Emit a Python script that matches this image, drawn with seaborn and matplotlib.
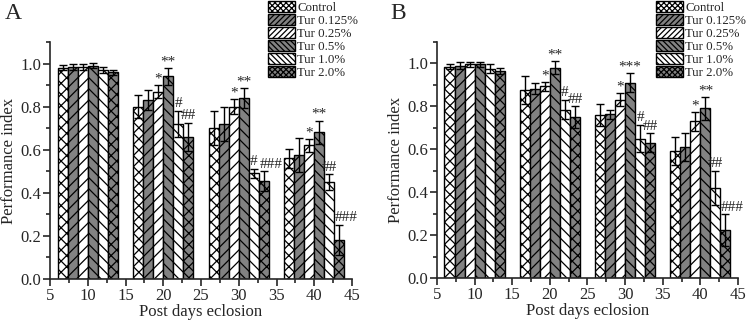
import numpy as np
import pandas as pd
import seaborn as sns
import matplotlib.pyplot as plt
from matplotlib.patches import Patch
from matplotlib.ticker import MultipleLocator

# data
days = [10, 20, 30, 40]
groups = ['Control', 'Tur 0.125%', 'Tur 0.25%', 'Tur 0.5%', 'Tur 1.0%', 'Tur 2.0%']

# panel A (one row per day, one value per group)
mean_a = [[0.98, 0.985, 0.985, 0.99, 0.97, 0.96],
          [0.80, 0.83, 0.87, 0.94, 0.72, 0.66],
          [0.70, 0.72, 0.80, 0.84, 0.49, 0.455],
          [0.56, 0.575, 0.62, 0.68, 0.45, 0.18]]
err_a = [[0.012, 0.015, 0.015, 0.012, 0.012, 0.012],
         [0.055, 0.045, 0.03, 0.04, 0.06, 0.065],
         [0.08, 0.08, 0.035, 0.045, 0.02, 0.045],
         [0.045, 0.08, 0.03, 0.055, 0.035, 0.07]]
marks_a = [['', '', '', '', '', ''],
           ['', '', '*', '**', '#', '##'],
           ['', '', '*', '**', '#', '###'],
           ['', '', '*', '**', '##', '###']]

# panel B
mean_b = [[0.985, 0.99, 0.995, 0.995, 0.975, 0.965],
          [0.878, 0.883, 0.893, 0.98, 0.785, 0.75],
          [0.76, 0.763, 0.83, 0.91, 0.65, 0.63],
          [0.59, 0.61, 0.73, 0.79, 0.42, 0.222]]
err_b = [[0.012, 0.015, 0.012, 0.012, 0.02, 0.012],
         [0.065, 0.027, 0.02, 0.03, 0.045, 0.05],
         [0.05, 0.022, 0.03, 0.045, 0.065, 0.045],
         [0.065, 0.065, 0.045, 0.055, 0.08, 0.075]]
marks_b = [['', '', '', '', '', ''],
           ['', '', '*', '**', '#', '##'],
           ['', '', '*', '***', '#', '##'],
           ['', '', '*', '**', '##', '###']]

gray = '#828282'
colors = ['white', gray, 'white', gray, 'white', gray]
hatches = ['xxx', '///', '///', '\\\\\\', '\\\\\\', 'xxx']

sns.set_style('ticks')
plt.rcParams['font.family'] = ['Liberation Serif', 'DejaVu Serif']
plt.rcParams['hatch.linewidth'] = 0.9
plt.rcParams['axes.linewidth'] = 1.2


def panel(ax, means, errs, marks, letter, leg_x, let_x):
    rows = []
    for d, vals in zip(days, means):
        for g, v in zip(groups, vals):
            rows.append({'day': d, 'group': g, 'value': v})
    df = pd.DataFrame(rows)
    sns.barplot(data=df, x='day', y='value', hue='group', hue_order=groups,
                palette=colors, native_scale=True, errorbar=None, saturation=1,
                edgecolor='black', linewidth=1.0, legend=False, ax=ax)
    bar_conts = list(ax.containers)
    for i, cont in enumerate(bar_conts):
        xs = [b.get_x() + b.get_width() / 2 for b in cont]
        hs = [b.get_height() for b in cont]
        es = [errs[j][i] for j in range(len(days))]
        for b in cont:
            b.set_hatch(hatches[i])
        ax.errorbar(xs, hs, yerr=es, fmt='none', ecolor='black',
                    elinewidth=1.0, capsize=3, capthick=1.0, zorder=3)
        for j, x in enumerate(xs):
            m = marks[j][i]
            if m:
                yy = hs[j] + es[j] + 0.003
                if '*' in m:
                    yy -= 0.005
                if m == '###':
                    x += 0.9
                ax.text(x, yy, m, ha='center', va='bottom', fontsize=11)
    ax.set_xlim(5, 45)
    ax.set_ylim(0, 1.1)
    ax.xaxis.set_major_locator(MultipleLocator(5))
    ax.xaxis.set_minor_locator(MultipleLocator(2.5))
    ax.yaxis.set_major_locator(MultipleLocator(0.2))
    ax.yaxis.set_minor_locator(MultipleLocator(0.1))
    ax.yaxis.set_major_formatter(plt.FormatStrFormatter('%.1f'))
    ax.tick_params(which='major', direction='out', length=5, width=1.2,
                   labelsize=12, pad=1.5)
    ax.tick_params(which='minor', direction='out', length=3, width=1.2)
    sns.despine(ax=ax)
    ax.set_xlabel('Post days eclosion', fontsize=12, labelpad=0)
    ax.set_ylabel('Performance index', fontsize=12, labelpad=2)

    handles = [Patch(facecolor=colors[i], edgecolor='black', linewidth=1.0,
                     hatch=hatches[i] * 2, label=g) for i, g in enumerate(groups)]
    ax.legend(handles=handles, loc='upper left', bbox_to_anchor=(leg_x, 0.997),
              bbox_transform=fig.transFigure, frameon=False, fontsize=9.3,
              handlelength=2.1, handleheight=0.9, labelspacing=0.02,
              handletextpad=0.15, borderpad=0, borderaxespad=0)
    fig.text(let_x, 0.99, letter, fontsize=17, va='top', ha='left')


fig = plt.figure(figsize=(7.49, 3.24), dpi=100)
ax_a = fig.add_axes([0.0668, 0.139, 0.4032, 0.7315])
ax_b = fig.add_axes([0.5834, 0.142, 0.4019, 0.7285])

panel(ax_a, mean_a, err_a, marks_a, 'A', 268 / 749, 0.007)
panel(ax_b, mean_b, err_b, marks_b, 'B', 656 / 749, 0.521)

fig.savefig('out.png', dpi=100)
